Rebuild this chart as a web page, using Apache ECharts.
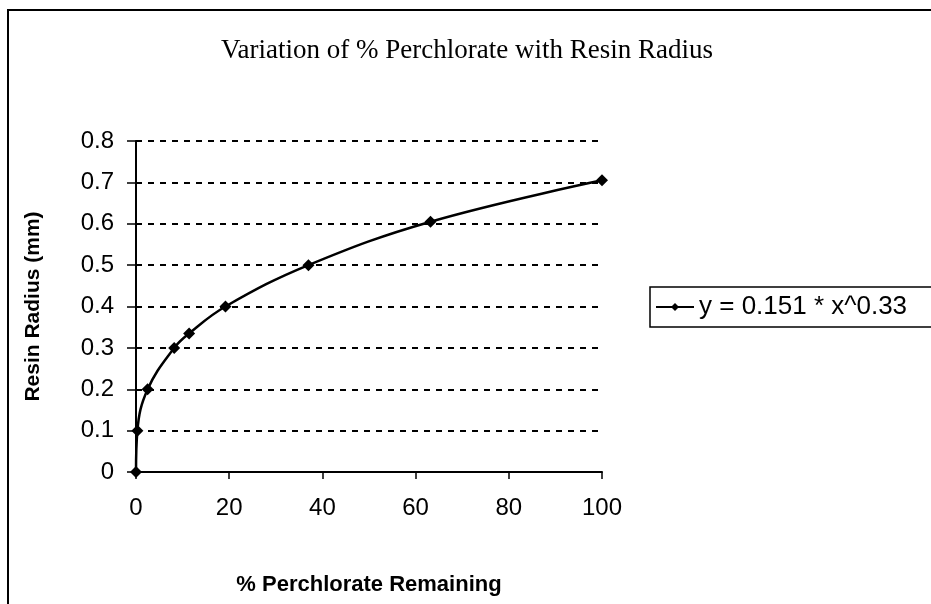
<!DOCTYPE html>
<html>
<head>
<meta charset="utf-8">
<script src="https://cdn.jsdelivr.net/npm/echarts@6/dist/echarts.min.js"></script>
<style>html,body{margin:0;padding:0;background:#fff;}#c{width:931px;height:604px;}</style>
</head>
<body>
<div id="c"></div>
<script>
const titleText = 'Variation of % Perchlorate with Resin Radius';
const xName = '% Perchlorate Remaining';
const yName = 'Resin Radius (mm)';
const seriesName = 'y = 0.151 * x^0.33';
const perchlorateRemaining = [0, 0.3, 2.5, 8.2, 11.4, 19.2, 37.0, 63.2, 100];
const resinRadius = [0, 0.1, 0.2, 0.3, 0.335, 0.4, 0.5, 0.605, 0.705];

const chart = echarts.init(document.getElementById('c'), null, {renderer: 'canvas'});
const data = perchlorateRemaining.map((x, i) => [x, resinRadius[i]]);
chart.setOption({
  backgroundColor: '#fff',
  animation: false,
  title: {
    text: titleText, left: 462, top: 32, textAlign: 'center',
    textStyle: {fontFamily: 'Liberation Serif', fontSize: 27, fontWeight: 'normal', color: '#000'}
  },
  graphic: [{
    type: 'rect', shape: {x: 8, y: 10, width: 1000, height: 700},
    style: {fill: 'none', stroke: '#000', lineWidth: 2}
  }],
  legend: {
    left: 650, top: 287, orient: 'vertical',
    borderColor: '#000', borderWidth: 1.5, borderRadius: 0,
    padding: [7, 60, 7, 5], itemWidth: 38, itemHeight: 10, itemGap: 0,
    textStyle: {fontFamily: 'Liberation Sans', fontSize: 26, color: '#000'},
    data: [seriesName]
  },
  grid: {left: 136, right: 329, top: 141, bottom: 132},
  xAxis: {
    type: 'value', min: 0, max: 100, interval: 20,
    name: xName, nameLocation: 'middle', nameGap: 102,
    nameTextStyle: {fontFamily: 'Liberation Sans', fontSize: 22, fontWeight: 'bold', color: '#000'},
    axisLine: {show: true, lineStyle: {color: '#000', width: 2}},
    axisTick: {show: true, length: 7, lineStyle: {color: '#000', width: 1.5}},
    axisLabel: {fontFamily: 'Liberation Sans', fontSize: 24, color: '#000', margin: 24},
    splitLine: {show: false}
  },
  yAxis: {
    type: 'value', min: 0, max: 0.8, interval: 0.1,
    name: yName, nameLocation: 'middle', nameGap: 92,
    nameTextStyle: {fontFamily: 'Liberation Sans', fontSize: 21, fontWeight: 'bold', color: '#000'},
    axisLine: {show: true, lineStyle: {color: '#000', width: 2}},
    axisTick: {show: true, length: 9, lineStyle: {color: '#000', width: 1.5}},
    axisLabel: {fontFamily: 'Liberation Sans', fontSize: 24, color: '#000', margin: 22,
      formatter: v => (v === 0 ? '0' : v.toFixed(1))},
    splitLine: {show: true, lineStyle: {color: '#000', type: [6, 6], width: 2}}
  },
  series: [{
    name: seriesName, type: 'line', data: data,
    smooth: 0.4,
    symbol: 'diamond', symbolSize: 12,
    lineStyle: {color: '#000', width: 2.5},
    itemStyle: {color: '#000'}
  }]
});
</script>
</body>
</html>
